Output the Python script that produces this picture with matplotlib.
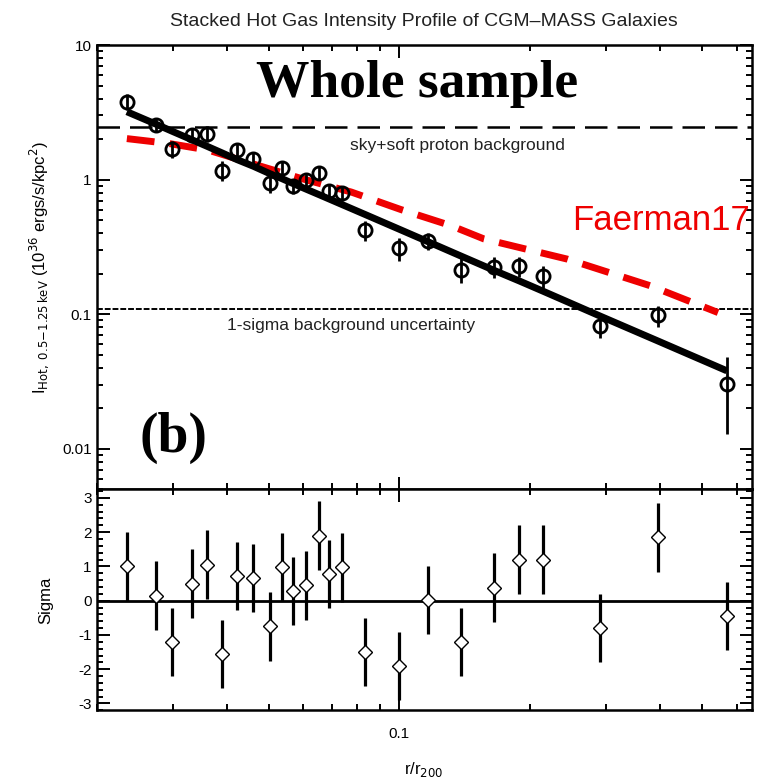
"""Stacked hot gas intensity profile of CGM-MASS galaxies, with residual panel."""

import matplotlib
matplotlib.use("Agg")
import matplotlib.pyplot as plt
from matplotlib.ticker import LogLocator, NullFormatter, FixedLocator, MultipleLocator, FuncFormatter

# radial bins (r / r200)
r_bins = [0.0235, 0.0274, 0.0299, 0.0332, 0.0360, 0.0390, 0.0422, 0.0460, 0.0502,
          0.0535, 0.0567, 0.0608, 0.0652, 0.0689, 0.0737, 0.0834, 0.1000, 0.1167,
          0.1390, 0.1654, 0.1890, 0.2150, 0.2909, 0.3960, 0.5700]

# stacked intensity and 1-sigma errors (10^36 ergs/s/kpc^2)
intensity = [3.80, 2.55, 1.70, 2.15, 2.20, 1.17, 1.65, 1.42, 0.95, 1.22, 0.90, 1.00,
             1.13, 0.82, 0.79, 0.42, 0.31, 0.35, 0.215, 0.225, 0.228, 0.192, 0.082,
             0.098, 0.0305]
intensity_err = [0.50, 0.30, 0.25, 0.25, 0.30, 0.20, 0.20, 0.18, 0.15, 0.15, 0.12, 0.12,
                 0.13, 0.10, 0.09, 0.07, 0.06, 0.05, 0.045, 0.04, 0.04, 0.035, 0.015,
                 0.018, 0.0175]

# best-fit model evaluated at the bins
model = [3.20, 2.59, 2.29, 1.98, 1.77, 1.58, 1.41, 1.26, 1.11, 1.02, 0.939, 0.853,
         0.775, 0.718, 0.654, 0.551, 0.428, 0.345, 0.270, 0.212, 0.177, 0.148,
         0.0968, 0.0631, 0.0380]

# Faerman et al. 2017 prediction
faerman_r = [0.0235, 0.0293, 0.0362, 0.0456, 0.0594, 0.0774, 0.1008, 0.1314, 0.1567,
             0.244, 0.379, 0.5437]
faerman_i = [2.02, 1.86, 1.66, 1.32, 1.02, 0.81, 0.60, 0.456, 0.363, 0.257, 0.163, 0.103]

# residuals in units of sigma
sigma = [1.0, 0.15, -1.2, 0.5, 1.05, -1.55, 0.72, 0.66, -0.75, 0.98, 0.28, 0.45,
         1.9, 0.78, 0.97, -1.5, -1.9, 0.02, -1.2, 0.38, 1.2, 1.2, -0.8, 1.85, -0.45]
sigma_err = [1.0] * len(sigma)

sky_level = 2.45
unc_level = 0.11

plt.rcParams["font.family"] = ["Liberation Sans", "DejaVu Sans"]
plt.rcParams["axes.unicode_minus"] = False

fig = plt.figure(figsize=(7.6, 7.78), dpi=100)
ax = fig.add_axes([0.127, 0.371, 0.862, 0.571])
axr = fig.add_axes([0.127, 0.087, 0.862, 0.284], sharex=ax)

spine_w = 1.8
for a in (ax, axr):
    for s in a.spines.values():
        s.set_linewidth(spine_w)
    a.tick_params(which="both", direction="in", top=True, right=True,
                  width=1.4, labelsize=11, colors="black")
    a.tick_params(which="major", length=9)
    a.tick_params(which="minor", length=4.5)

# --- top panel ---
ax.set_xscale("log")
ax.set_yscale("log")
ax.set_xlim(0.02, 0.65)
ax.set_ylim(0.005, 10)

ax.axhline(sky_level, color="black", lw=1.8, ls=(0, (9, 4)))
ax.axhline(unc_level, color="black", lw=1.4, ls=(0, (3, 1)))
ax.plot(faerman_r, faerman_i, color="#ee0000", lw=5, ls=(0, (4, 2.2)))
ax.plot(r_bins, model, color="black", lw=5, solid_capstyle="butt")
ax.errorbar(r_bins, intensity, yerr=intensity_err, fmt="o", ms=9.5, mfc="none",
            mec="black", mew=2, ecolor="black", elinewidth=2, capsize=0)

ax.yaxis.set_major_locator(FixedLocator([0.01, 0.1, 1, 10]))
ax.yaxis.set_minor_locator(LogLocator(base=10, subs=range(2, 10)))
ax.yaxis.set_major_formatter(FuncFormatter(lambda v, p: f"{v:g}"))
ax.yaxis.set_minor_formatter(NullFormatter())
ax.tick_params(axis="x", which="both", labelbottom=False)

ax.text(0.489, 0.912, "Whole sample", family=["Liberation Serif", "DejaVu Serif"],
        fontsize=38.5, fontweight="bold", ha="center", va="center",
        transform=ax.transAxes)
ax.text(0.118, 0.115, "(b)", family=["Liberation Serif", "DejaVu Serif"],
        fontsize=40, fontweight="bold", ha="center", va="center",
        transform=ax.transAxes)
ax.text(0.551, 0.775, "sky+soft proton background", fontsize=12.5, ha="center",
        va="center", color="#222222", transform=ax.transAxes)
ax.text(0.388, 0.369, "1-sigma background uncertainty", fontsize=12.5, ha="center",
        va="center", color="#222222", transform=ax.transAxes)
ax.text(0.997, 0.606, "Faerman17", fontsize=25, color="#ee0000", ha="right",
        va="center", transform=ax.transAxes)
ax.set_ylabel(r"I$_{\rm Hot,\ 0.5\!-\!1.25\,keV}$ (10$^{36}$ ergs/s/kpc$^2$)",
              fontsize=12, labelpad=8)
ax.set_title("Stacked Hot Gas Intensity Profile of CGM\u2013MASS Galaxies",
             fontsize=14, color="#222222", pad=14)

# --- residual panel ---
axr.set_ylim(-3.2, 3.25)
axr.axhline(0, color="black", lw=2)
axr.errorbar(r_bins, sigma, yerr=sigma_err, fmt="D", ms=7, mfc="white",
             mec="black", mew=1, ecolor="black", elinewidth=2.3, capsize=0)
axr.yaxis.set_major_locator(MultipleLocator(1))
axr.yaxis.set_minor_locator(MultipleLocator(0.2))
axr.xaxis.set_major_locator(FixedLocator([0.1]))
axr.xaxis.set_minor_locator(LogLocator(base=10, subs=range(2, 10)))
axr.xaxis.set_major_formatter(FuncFormatter(lambda v, p: f"{v:g}"))
axr.xaxis.set_minor_formatter(NullFormatter())
axr.tick_params(axis="x", which="major", pad=12)
axr.set_ylabel("Sigma", fontsize=12, labelpad=18)
axr.set_xlabel(r"r/r$_{200}$", fontsize=12, labelpad=14)

fig.savefig("out.png", dpi=100)
